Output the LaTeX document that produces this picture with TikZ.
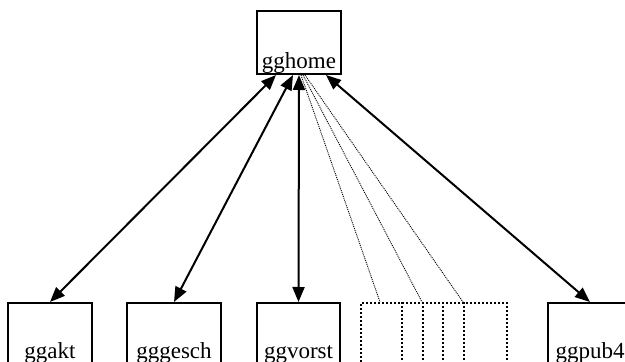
\documentclass[tikz,border=0pt]{standalone}
\usepackage{fontspec}
\setmainfont{Liberation Serif}
\usetikzlibrary{arrows.meta,calc}
\begin{document}
\begin{tikzpicture}[x=1pt,y=-1pt,
  pg/.style={draw, line width=2pt, inner sep=0pt, anchor=north west,
    text height=55pt, text depth=8pt, font=\fontsize{23}{27}\selectfont},
  grpbox/.style={pg, dash pattern=on 2pt off 2pt},
  grpline/.style={line width=2pt, dash pattern=on 2pt off 2pt},
  arr/.style={line width=2pt, {Triangle[length=15pt,width=12pt]}-{Triangle[length=15pt,width=12pt]}},
  sub/.style={line width=0.9pt, dash pattern=on 1pt off 1pt}]
\clip (0,0) rectangle (625,362);
\node[pg, minimum width=84pt, text height=57pt, text depth=6pt] (gghome) at (256,10) {gghome};
\node[pg, minimum width=84pt] (ggakt) at (7,302) {ggakt};
\node[pg, minimum width=94pt] (gggesch) at (126,302) {gggesch};
\node[pg, minimum width=83pt] (ggvorst) at (256,302) {ggvorst};
\node[grpbox, minimum width=146pt] (grp) at (360,302) {};
\node[pg, minimum width=84pt] (ggpub4) at (547,302) {ggpub4};
\foreach \d in {42,63,83,104}
  \draw[grpline] ($(grp.north west)+(\d,0)$) -- ($(grp.south west)+(\d,0)$);
\coordinate (g1) at ($(grp.north west)+(20,0)$);
\coordinate (g2) at ($(grp.north west)+(62,0)$);
\coordinate (g3) at ($(grp.north west)+(103,0)$);
\draw[arr] ($(gghome.south)+(-23,0)$) -- (ggakt.north);
\draw[arr] ($(gghome.south)+(-6,0)$) -- (gggesch.north);
\draw[arr] (gghome.south) -- (ggvorst.north);
\draw[arr] ($(gghome.south)+(27,0)$) -- (ggpub4.north);
\draw[sub] ($(gghome.south)+(2,0)$) -- (g1);
\draw[sub] ($(gghome.south)+(4,0)$) -- (g2);
\draw[sub] ($(gghome.south)+(6,0)$) -- (g3);
\end{tikzpicture}
\end{document}
